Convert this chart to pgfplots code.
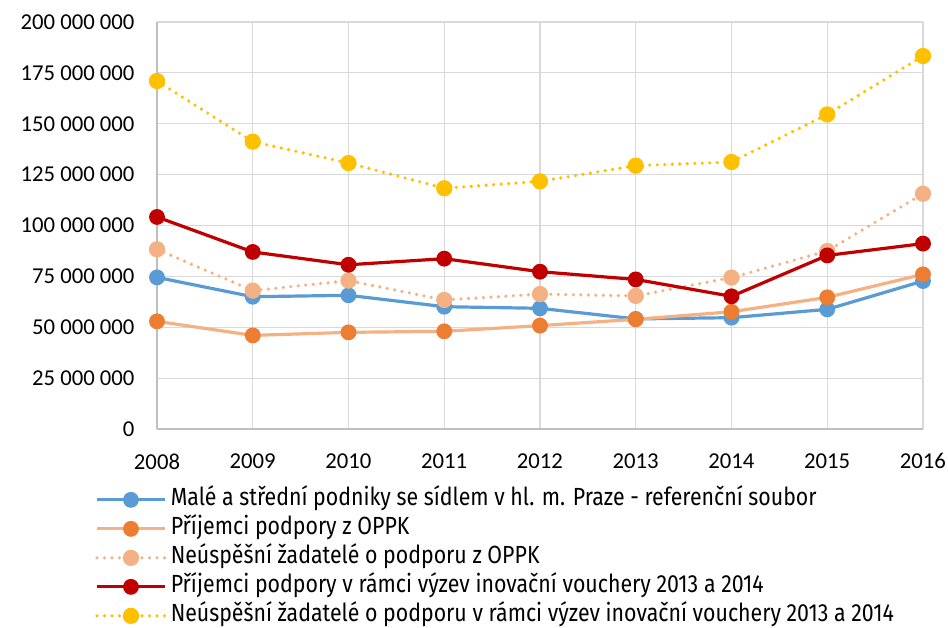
\documentclass[border=0pt]{standalone}
\usepackage{pgfplots}
\pgfplotsset{compat=1.18}
\usepackage{fontspec}
\setmainfont{Carlito}
\newfontfamily\legfont[FakeStretch=0.86]{Fira Sans}
\definecolor{cblue}{HTML}{5B9BD5}
\definecolor{corange}{HTML}{ED7D31}
\definecolor{cpeach}{HTML}{F4B183}
\definecolor{cred}{HTML}{C00000}
\definecolor{cyellow}{HTML}{FFC000}
\definecolor{cgrid}{HTML}{D9D9D9}
\definecolor{caxis}{HTML}{BFBFBF}
\begin{document}
\begin{tikzpicture}
\path[use as bounding box] (0,0) rectangle (948pt,627pt);
\begin{axis}[
  at={(157pt,198pt)}, anchor=south west,
  scale only axis, width=766pt, height=407pt,
  xmin=2008, xmax=2016, ymin=0, ymax=200000000,
  xtick={2008,...,2016},
  xticklabels={2008,2009,2010,2011,2012,2013,2014,2015,2016},
  ytick={0,25000000,50000000,75000000,100000000,125000000,150000000,175000000,200000000},
  yticklabels={0,25 000 000,50 000 000,75 000 000,100 000 000,125 000 000,150 000 000,175 000 000,200 000 000},
  scaled y ticks=false,
  grid=major, grid style={cgrid, line width=1.2pt},
  axis line style={caxis, line width=1.5pt},
  axis x line*=bottom, axis y line*=left,
  major tick length=0pt,
  tick label style={font=\fontsize{22.7}{26}\selectfont, black},
  yticklabel style={xshift=-19pt},
  xticklabel style={yshift=-21pt},
  clip=false,
  legend style={draw=none, fill=none,
    at={(rel axis cs:-0.081,-0.138)}, anchor=north west,
    row sep=0pt, inner sep=0pt,
    nodes={font=\legfont\fontsize{24.8}{28}\selectfont, inner ysep=4pt, inner xsep=4pt, text height=16pt, text depth=5pt}},
  legend cell align=left,
  legend image code/.code={\draw[mark repeat=2,mark phase=2,#1] plot coordinates {(0pt,0pt) (34pt,0pt) (68pt,0pt)};},
  every axis plot/.append style={mark=*, mark size=6.3pt, line width=3.2pt},
]
\addplot[cblue, mark options={fill=cblue, draw=cblue, solid}] coordinates {
(2008,74500000) (2009,65000000) (2010,65700000) (2011,60100000) (2012,59300000) (2013,54100000) (2014,54700000) (2015,58800000) (2016,72700000)};
\addlegendentry{Malé a střední podniky se sídlem v hl. m. Praze - referenční soubor}
\addplot[cpeach, mark options={fill=corange, draw=corange, solid}] coordinates {
(2008,52900000) (2009,46000000) (2010,47500000) (2011,48000000) (2012,50800000) (2013,53900000) (2014,57600000) (2015,64700000) (2016,76000000)};
\addlegendentry{Příjemci podpory z OPPK}
\addplot[cpeach, line width=3.6pt, line cap=round, dash pattern=on 0pt off 7.5pt, mark options={fill=cpeach, draw=cpeach, solid}] coordinates {
(2008,88300000) (2009,68000000) (2010,72900000) (2011,63400000) (2012,66300000) (2013,65400000) (2014,74400000) (2015,87500000) (2016,115600000)};
\addlegendentry{Neúspěšní žadatelé o podporu z OPPK}
\addplot[cred, mark options={fill=cred, draw=cred, solid}] coordinates {
(2008,104200000) (2009,87000000) (2010,80700000) (2011,83700000) (2012,77300000) (2013,73500000) (2014,65200000) (2015,85300000) (2016,91100000)};
\addlegendentry{Příjemci podpory v rámci výzev inovační vouchery 2013 a 2014}
\addplot[cyellow, line width=3.6pt, line cap=round, dash pattern=on 0pt off 7.5pt, mark options={fill=cyellow, draw=cyellow, solid}] coordinates {
(2008,171000000) (2009,141200000) (2010,130700000) (2011,118300000) (2012,121700000) (2013,129400000) (2014,131200000) (2015,154600000) (2016,183300000)};
\addlegendentry{Neúspěšní žadatelé o podporu v rámci výzev inovační vouchery 2013 a 2014}
\end{axis}
\end{tikzpicture}
\end{document}
